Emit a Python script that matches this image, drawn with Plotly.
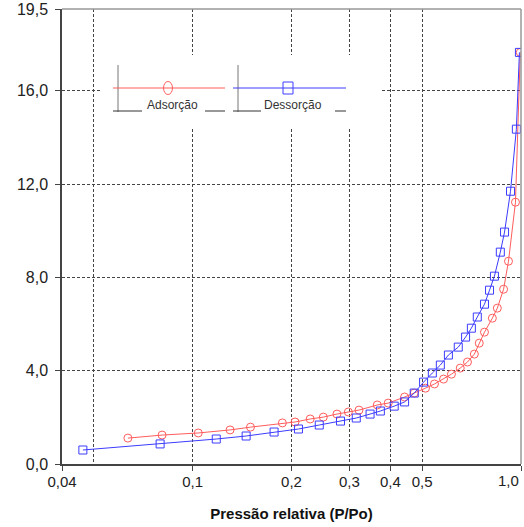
import math
import plotly.graph_objects as go

# ---------------- data ----------------
ads_x = [0.0635, 0.0807, 0.104, 0.130, 0.150, 0.1876, 0.205, 0.228, 0.250, 0.275,
         0.298, 0.321, 0.365, 0.394, 0.442, 0.473, 0.512, 0.545, 0.581, 0.614,
         0.653, 0.687, 0.721, 0.746, 0.774, 0.818, 0.847, 0.885, 0.916, 0.962, 0.995]
ads_y = [1.11, 1.24, 1.33, 1.46, 1.58, 1.76, 1.80, 1.93, 2.01, 2.14,
         2.23, 2.31, 2.53, 2.61, 2.87, 3.04, 3.25, 3.43, 3.64, 3.85,
         4.11, 4.37, 4.71, 5.18, 5.65, 6.25, 6.68, 7.49, 8.69, 11.22, 17.64]

des_x = [0.0463, 0.0796, 0.118, 0.1455, 0.177, 0.210, 0.243, 0.282, 0.315, 0.347,
         0.373, 0.411, 0.442, 0.473, 0.505, 0.537, 0.568, 0.601, 0.644, 0.678,
         0.706, 0.736, 0.774, 0.802, 0.830, 0.865, 0.891, 0.929, 0.968, 0.989]
des_y = [0.60, 0.86, 1.07, 1.20, 1.37, 1.50, 1.67, 1.84, 1.97, 2.14,
         2.27, 2.48, 2.66, 3.04, 3.51, 3.90, 4.24, 4.67, 5.01, 5.44,
         5.82, 6.30, 6.85, 7.45, 8.05, 9.08, 9.94, 11.69, 14.35, 17.64]

series_names = ["Adsorção", "Dessorção"]
x_tickvals = [0.04, 0.1, 0.2, 0.3, 0.4, 0.5, 1.0]
x_ticktext = ["0,04", "0,1", "0,2", "0,3", "0,4", "0,5", "1,0"]
x_minor_grid = [0.05]
y_tickvals = [0, 4, 8, 12, 16, 19.5]
y_ticktext = ["0,0", "4,0", "8,0", "12,0", "16,0", "19,5"]
x_title = "Pressão relativa (P/Po)"

RED = "#ff5c5c"
BLUE = "#3c3cff"
GRID = "#444444"
FONT = "Liberation Sans, Arial, sans-serif"

W, H = 524, 527
L, R, T, B = 62, 3, 9, 63
PW, PH = W - L - R, H - T - B


def px(xp):
    return (xp - L) / PW


def py(yp):
    return (H - B - yp) / PH


fig = go.Figure()
fig.add_trace(go.Scatter(
    x=ads_x, y=ads_y, mode="lines+markers", name=series_names[0],
    line=dict(color=RED, width=1),
    marker=dict(symbol="circle-open", size=8, color=RED, line=dict(width=1)),
))
fig.add_trace(go.Scatter(
    x=des_x, y=des_y, mode="lines+markers", name=series_names[1],
    line=dict(color=BLUE, width=1),
    marker=dict(symbol="square-open", size=8, color=BLUE, line=dict(width=1)),
))

shapes = []
annotations = []

# legend box (white, hides gridlines)
shapes.append(dict(type="rect", xref="paper", yref="paper",
                   x0=px(102), x1=px(380), y0=py(127), y1=py(55),
                   fillcolor="white", line=dict(width=0), layer="above"))

legend_specs = [
    dict(vx=118, lx0=113, lx1=225, mx=168, tx=172, u1=(113, 142), u2=(205, 225),
         color=RED, kind="circle"),
    dict(vx=238, lx0=233, lx1=346, mx=288, tx=293, u1=(233, 261), u2=(335, 346),
         color=BLUE, kind="rect"),
]
for name, s in zip(series_names, legend_specs):
    shapes.append(dict(type="line", xref="paper", yref="paper", layer="above",
                       x0=px(s["vx"]), x1=px(s["vx"]), y0=py(65), y1=py(112),
                       line=dict(color="#777777", width=1)))
    shapes.append(dict(type="line", xref="paper", yref="paper", layer="above",
                       x0=px(s["lx0"]), x1=px(s["lx1"]), y0=py(88), y1=py(88),
                       line=dict(color=s["color"], width=1)))
    for (a, b) in (s["u1"], s["u2"]):
        shapes.append(dict(type="line", xref="paper", yref="paper", layer="above",
                           x0=px(a), x1=px(b), y0=py(111), y1=py(111),
                           line=dict(color="#333333", width=1)))
    if s["kind"] == "circle":
        shapes.append(dict(type="circle", xref="paper", yref="paper", layer="above",
                           x0=px(s["mx"] - 4.5), x1=px(s["mx"] + 4.5),
                           y0=py(94.5), y1=py(81.5),
                           line=dict(color=s["color"], width=1), fillcolor="rgba(0,0,0,0)"))
    else:
        shapes.append(dict(type="rect", xref="paper", yref="paper", layer="above",
                           x0=px(s["mx"] - 5), x1=px(s["mx"] + 5),
                           y0=py(94), y1=py(82),
                           line=dict(color=s["color"], width=1), fillcolor="rgba(0,0,0,0)"))
    annotations.append(dict(xref="paper", yref="paper", x=px(s["tx"]), y=py(105),
                            text=name, showarrow=False, xanchor="center", yanchor="middle",
                            font=dict(family=FONT, size=12, color="#333333")))

# top and right frame
shapes.append(dict(type="line", xref="paper", yref="paper", x0=0, x1=1, y0=1, y1=1,
                   layer="above", line=dict(color="#999999", width=1.5)))
shapes.append(dict(type="line", xref="paper", yref="paper", x0=1, x1=1, y0=0, y1=1,
                   layer="above", line=dict(color="#999999", width=1.5)))

# last x tick label right-aligned (as in the reference)
annotations.append(dict(xref="x", yref="paper", x=math.log10(x_tickvals[-1]), y=0,
                        text=x_ticktext[-1], showarrow=False, xanchor="right",
                        yanchor="top", yshift=-6,
                        font=dict(family=FONT, size=15, color="#222222")))
x_ticktext_shown = x_ticktext[:-1] + [""]

fig.update_layout(
    width=W, height=H,
    margin=dict(l=L, r=R, t=T, b=B, autoexpand=False),
    paper_bgcolor="white", plot_bgcolor="white",
    showlegend=False,
    font=dict(family=FONT, size=15, color="#222222"),
    shapes=shapes, annotations=annotations,
    xaxis=dict(
        type="log", range=[math.log10(0.04), math.log10(1.0)],
        tickvals=x_tickvals, ticktext=x_ticktext_shown,
        showgrid=True, gridcolor=GRID, griddash="3px,2px", gridwidth=1,
        showline=True, linecolor="#444444", linewidth=1.5,
        ticks="outside", ticklen=5, tickcolor="#444444",
        tickfont=dict(family=FONT, size=15, color="#222222"),
        zeroline=False, automargin=False, ticklabelstandoff=-2,
        minor=dict(tickvals=x_minor_grid, showgrid=True, gridcolor=GRID,
                   griddash="3px,2px", gridwidth=1, ticks=""),
        title=dict(text="<b>" + x_title + "</b>", standoff=20,
                   font=dict(family=FONT, size=15, color="#111111")),
    ),
    yaxis=dict(
        range=[0, 19.5],
        tickvals=y_tickvals, ticktext=y_ticktext,
        showgrid=True, gridcolor=GRID, griddash="3px,2px", gridwidth=1,
        showline=True, linecolor="#444444", linewidth=1.5,
        ticks="outside", ticklen=5, tickcolor="#444444",
        tickfont=dict(family=FONT, size=16, color="#222222"),
        zeroline=False, automargin=False, ticklabelstandoff=4,
    ),
)

fig.write_html("out.html")
